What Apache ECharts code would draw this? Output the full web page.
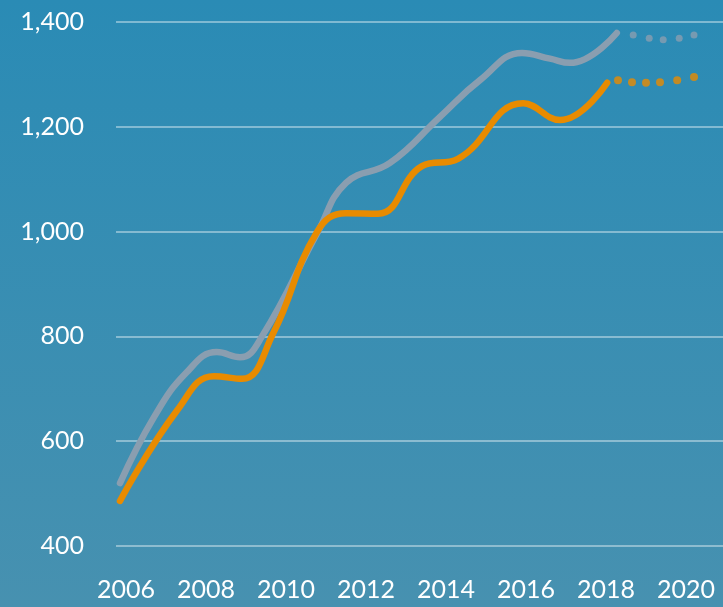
<!DOCTYPE html>
<html>
<head>
  <meta charset="utf-8">
  <title>Trend 2006-2020</title>
  <script src="https://cdn.jsdelivr.net/npm/echarts@6.0.0/dist/echarts.min.js"></script>
  <style>
    html, body { margin: 0; padding: 0; }
    #main { width: 723px; height: 607px; }
  </style>
</head>
<body>
  <div id="main"></div>
  <script>
    // 年份刻度
    const yearTicks = [2006, 2008, 2010, 2012, 2014, 2016, 2018, 2020];

    // 灰线（实线部分），[年份, 数值]
    const grayYears  = [2005.85, 2006.7, 2007.5, 2008.27, 2008.85, 2009.4, 2010.8, 2011.5, 2012.6, 2013.85, 2014.85, 2015.9, 2016.6, 2017.1, 2018.27];
    const grayValues = [520, 646, 730, 770, 760, 800, 1000, 1093, 1131, 1219, 1289, 1341, 1330, 1322, 1379];

    // 灰线预测（点）
    const grayDotYears  = [2018.68, 2019.08, 2019.43, 2019.83, 2020.2];
    const grayDotValues = [1375, 1369, 1366, 1369, 1375];

    // 橙线（实线部分）
    const orangeYears  = [2005.85, 2007.28, 2008.2, 2008.9, 2009.68, 2010.78, 2011.5, 2012.3, 2013.4, 2014.3, 2015.93, 2016.85, 2018.03];
    const orangeValues = [486, 659, 724, 719, 806, 1000, 1035, 1034, 1125, 1139, 1245, 1213, 1284];

    // 橙线预测（点）
    const orangeDotYears  = [2018.3, 2018.65, 2019.0, 2019.35, 2019.78, 2020.2];
    const orangeDotValues = [1289, 1285, 1284, 1285, 1289, 1295];

    const pair = (xs, ys) => xs.map((x, i) => [x, ys[i]]);

    const GRAY = '#8a9eb0';
    const ORANGE = '#e88b00';
    const FONT = 'Lato, "Open Sans", sans-serif';

    const chart = echarts.init(document.getElementById('main'));

    const option = {
      backgroundColor: new echarts.graphic.LinearGradient(0, 0, 0, 1, [
        { offset: 0, color: '#2a8bb5' },
        { offset: 1, color: '#4791b0' }
      ]),
      animation: false,
      grid: { left: 116, right: 0, top: 22, bottom: 61, containLabel: false },
      xAxis: {
        type: 'value',
        min: 2005.75,
        max: 2020.925,
        axisLine: { show: false },
        axisTick: { show: false },
        splitLine: { show: false },
        axisLabel: {
          customValues: yearTicks,
          color: '#ffffff',
          fontSize: 25,
          fontFamily: FONT,
          margin: 31,
          formatter: v => String(v)
        }
      },
      yAxis: {
        type: 'value',
        min: 400,
        max: 1400,
        interval: 200,
        axisLine: { show: false },
        axisTick: { show: false },
        axisLabel: {
          color: '#ffffff',
          fontSize: 25,
          fontFamily: FONT,
          margin: 32,
          formatter: v => v.toLocaleString('en-US')
        },
        splitLine: { lineStyle: { color: 'rgba(255,255,255,0.4)', width: 2 } }
      },
      series: [
        {
          type: 'line',
          data: pair(grayYears, grayValues),
          smooth: 0.45,
          showSymbol: false,
          lineStyle: { color: GRAY, width: 6.5, cap: 'round', join: 'round' },
          z: 2
        },
        {
          type: 'scatter',
          data: pair(grayDotYears, grayDotValues),
          symbolSize: 7,
          itemStyle: { color: GRAY },
          z: 2
        },
        {
          type: 'line',
          data: pair(orangeYears, orangeValues),
          smooth: 0.45,
          showSymbol: false,
          lineStyle: { color: ORANGE, width: 6.5, cap: 'round', join: 'round' },
          z: 3
        },
        {
          type: 'scatter',
          data: pair(orangeDotYears, orangeDotValues),
          symbolSize: 8,
          itemStyle: { color: ORANGE },
          z: 3
        }
      ]
    };

    chart.setOption(option);
  </script>
</body>
</html>
